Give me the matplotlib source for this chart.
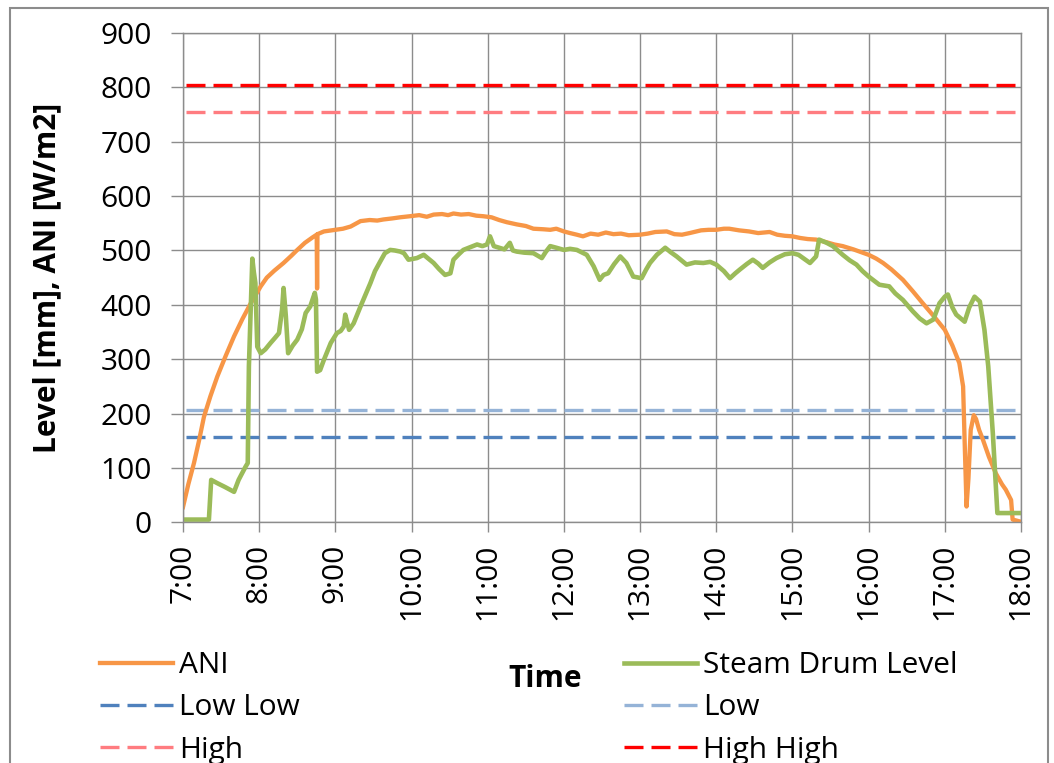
import matplotlib
matplotlib.use("Agg")
import matplotlib.pyplot as plt
from matplotlib.patches import Rectangle

# ---------------- data ----------------
ani_t = [7.00, 7.07, 7.144, 7.21, 7.275, 7.36, 7.45, 7.56, 7.67, 7.78, 7.89, 8.02, 8.10, 8.20,
         8.32, 8.42, 8.50, 8.60, 8.70, 8.755, 8.76, 8.765, 8.85, 9.00, 9.10, 9.20, 9.33, 9.45,
         9.55, 9.63, 9.75, 9.85, 9.98, 10.10, 10.20, 10.29, 10.40, 10.48, 10.55, 10.65, 10.75,
         10.85, 10.94, 11.05, 11.15, 11.25, 11.38, 11.50, 11.60, 11.73, 11.82, 11.90, 12.00,
         12.08, 12.17, 12.25, 12.35, 12.45, 12.55, 12.65, 12.75, 12.85, 13.00, 13.10, 13.20,
         13.35, 13.45, 13.55, 13.65, 13.80, 13.90, 14.00, 14.10, 14.17, 14.30, 14.43, 14.55,
         14.70, 14.80, 14.90, 15.00, 15.10, 15.20, 15.31, 15.45, 15.55, 15.66, 15.80, 15.90,
         16.00, 16.10, 16.19, 16.30, 16.45, 16.58, 16.71, 16.85, 17.00, 17.10, 17.19, 17.24,
         17.26, 17.285, 17.31, 17.34, 17.38, 17.41, 17.45, 17.50, 17.58, 17.67, 17.75, 17.80,
         17.87, 17.89, 18.00]
ani_v = [28, 70, 109, 150, 194, 232, 268, 306, 342, 374, 403, 434, 450, 463,
         477, 490, 501, 514, 524, 529, 430, 530, 535, 538, 540, 544, 554, 556,
         555, 557, 559, 561, 563, 565, 562, 566, 567, 565, 568, 566, 567,
         564, 563, 561, 556, 552, 548, 545, 540, 539, 538, 540, 535,
         532, 529, 526, 531, 529, 533, 530, 531, 528, 529, 531, 534,
         535, 530, 529, 532, 537, 538, 538, 540, 540, 537, 535, 532,
         534, 529, 527, 526, 523, 521, 520, 515, 511, 508, 502, 497,
         492, 485, 477, 465, 446, 425, 403, 380, 354, 325, 293, 250,
         150, 29, 80, 170, 197, 190, 170, 152, 120, 90, 70, 60,
         41, 5, 1]

sdl_t = [7.00, 7.34, 7.37, 7.45, 7.55, 7.67, 7.73, 7.82, 7.85, 7.865, 7.91, 7.93, 7.95, 7.975,
         8.02, 8.08, 8.15, 8.20, 8.26, 8.30, 8.32, 8.35, 8.38, 8.44, 8.50, 8.56, 8.61, 8.67,
         8.73, 8.745, 8.76, 8.80, 8.85, 8.94, 9.02, 9.07, 9.11, 9.13, 9.18, 9.24, 9.33, 9.40,
         9.46, 9.52, 9.59, 9.65, 9.72, 9.78, 9.85, 9.90, 9.96, 10.07, 10.16, 10.22, 10.29,
         10.36, 10.44, 10.51, 10.55, 10.62, 10.68, 10.77, 10.86, 10.93, 10.99, 11.03, 11.08,
         11.15, 11.22, 11.29, 11.33, 11.38, 11.48, 11.60, 11.71, 11.76, 11.82, 11.90, 12.00,
         12.08, 12.17, 12.30, 12.39, 12.47, 12.52, 12.58, 12.66, 12.74, 12.82, 12.91, 13.02,
         13.08, 13.13, 13.22, 13.33, 13.40, 13.48, 13.61, 13.72, 13.83, 13.92, 14.00, 14.10,
         14.18, 14.25, 14.31, 14.40, 14.48, 14.55, 14.61, 14.70, 14.79, 14.90, 15.00, 15.08,
         15.14, 15.23, 15.31, 15.35, 15.45, 15.53, 15.66, 15.75, 15.84, 15.92, 16.00, 16.14,
         16.27, 16.35, 16.45, 16.58, 16.67, 16.76, 16.85, 16.93, 17.00, 17.04, 17.10, 17.15,
         17.26, 17.32, 17.39, 17.46, 17.52, 17.57, 17.63, 17.69, 18.00]
sdl_v = [5, 5, 78, 72, 65, 56, 78, 102, 109, 287, 485, 460, 440, 323,
         311, 318, 330, 338, 348, 391, 431, 379, 311, 325, 336, 355, 385, 397,
         422, 410, 277, 280, 299, 330, 348, 352, 360, 382, 354, 366, 397, 420,
         440, 462, 480, 495, 501, 500, 498, 495, 483, 486, 492, 485, 477,
         466, 455, 458, 483, 493, 501, 506, 511, 508, 511, 526, 508,
         505, 502, 514, 500, 498, 496, 495, 486, 497, 508, 505, 501,
         503, 501, 492, 471, 446, 455, 458, 475, 489, 477, 452, 449,
         465, 477, 492, 505, 497, 489, 474, 478, 477, 479, 474, 462,
         449, 458, 465, 475, 483, 476, 468, 478, 486, 493, 495, 492,
         486, 477, 489, 520, 514, 508, 492, 482, 474, 462, 452, 437,
         434, 421, 409, 388, 375, 366, 373, 403, 415, 419, 395, 382,
         369, 395, 415, 406, 354, 287, 164, 17, 17]

limit_t = [7.04, 18.0]
low_low = 157
low = 207
high = 755
high_high = 804

hour_ticks = list(range(7, 19))
hour_labels = [f"{h}:00" for h in hour_ticks]
y_ticks = list(range(0, 1000, 100))

# ---------------- style ----------------
FONT = "Open Sans"
plt.rcParams["font.family"] = [FONT, "DejaVu Sans"]

W, H = 1054, 763
fig = plt.figure(figsize=(W / 100, H / 100), dpi=100)
ax = fig.add_axes([183 / W, 1 - 522.3 / H, (1021 - 183) / W, (522.3 - 33) / H])

grid_c = "#8c8c8c"
lw_lim = 2.4
dash = (5.7, 2.4)

ln_ll, = ax.plot(limit_t, [low_low] * 2, color="#4F81BD", lw=lw_lim, dashes=dash, label="Low Low")
ln_l, = ax.plot(limit_t, [low] * 2, color="#95B3D7", lw=lw_lim, dashes=dash, label="Low")
ln_h, = ax.plot(limit_t, [high] * 2, color="#FF7C80", lw=lw_lim, dashes=dash, label="High")
ln_hh, = ax.plot(limit_t, [high_high] * 2, color="#FF0000", lw=lw_lim, dashes=dash, label="High High")
ln_ani, = ax.plot(ani_t, ani_v, color="#F79646", lw=3.1, label="ANI", solid_joinstyle="round")
ln_sdl, = ax.plot(sdl_t, sdl_v, color="#9BBB59", lw=3.3, label="Steam Drum Level", solid_joinstyle="round")

ax.set_xlim(7, 18)
ax.set_ylim(0, 900)
ax.set_xticks(hour_ticks)
ax.set_xticklabels(hour_labels, rotation=90)
ax.set_yticks(y_ticks)
ax.grid(True, color=grid_c, lw=1.0)
ax.set_axisbelow(True)
for s in ax.spines.values():
    s.set_color(grid_c)
    s.set_linewidth(1.0)
ax.tick_params(axis="both", colors=grid_c, labelcolor="black", labelsize=21.5, width=1.0)
ax.tick_params(axis="y", length=8.5, pad=14)
ax.tick_params(axis="x", length=7.5, pad=8)

ax.set_ylabel("Level [mm], ANI [W/m2]", fontsize=21.5, fontweight="bold")
ax.yaxis.set_label_coords((62 - 183) / 838, 0.5)

fig.text(545 / W, 1 - 679 / H, "Time", fontsize=21.5, fontweight="bold",
         ha="center", va="center")

leg_kw = dict(frameon=False, fontsize=21.5, handlelength=2.45, handletextpad=0.2,
              labelspacing=0.45, borderpad=0, borderaxespad=0)
leg1 = fig.legend(handles=[ln_ani, ln_ll, ln_h], loc="upper left",
                  bbox_to_anchor=(100 / W, 1 - 651 / H), **leg_kw)
leg2 = fig.legend(handles=[ln_sdl, ln_l, ln_hh], loc="upper left",
                  bbox_to_anchor=(624 / W, 1 - 651 / H), **leg_kw)

fig.patches.append(Rectangle((10 / W, -0.05), (1048 - 10) / W, 1.05 - 8 / H,
                             transform=fig.transFigure, fill=False,
                             edgecolor="#8c8c8c", lw=1.5))

fig.savefig("out.png", dpi=100)
